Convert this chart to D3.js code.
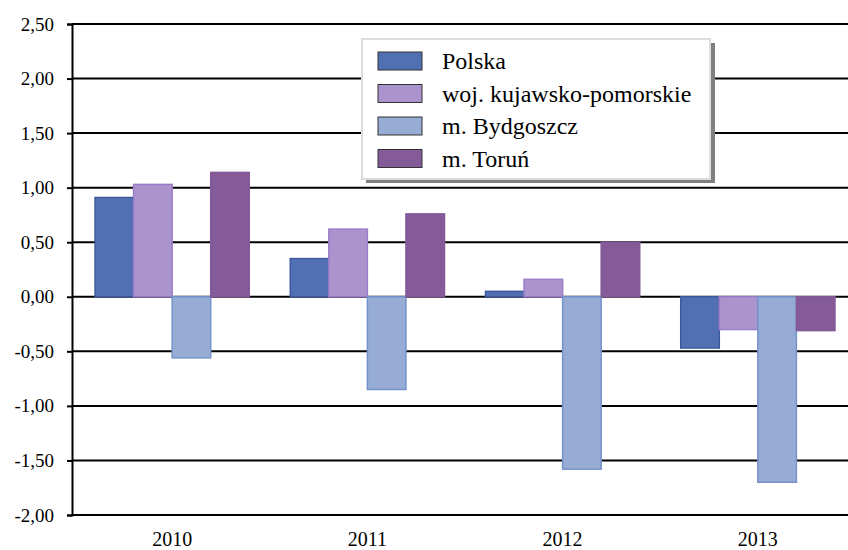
<!DOCTYPE html>
<html>
<head>
<meta charset="utf-8">
<script src="https://cdn.jsdelivr.net/npm/d3@7"></script>
<style>
  body { margin: 0; background: #fff; }
  svg text { font-family: "Liberation Serif", "Times New Roman", Times, "DejaVu Serif", serif; fill: #000; }
</style>
</head>
<body>
<div id="chart-container"></div>
<script>
// data
const years = ['2010', '2011', '2012', '2013']
const seriesNames = ['Polska', 'woj. kujawsko-pomorskie', 'm. Bydgoszcz', 'm. Toruń']
const polska = [0.91, 0.35, 0.05, -0.47]
const kujawskoPomorskie = [1.03, 0.62, 0.16, -0.30]
const bydgoszcz = [-0.56, -0.85, -1.58, -1.70]
const torun = [1.14, 0.76, 0.50, -0.31]
const yTicks = [-2, -1.5, -1, -0.5, 0, 0.5, 1, 1.5, 2, 2.5]

const seriesValues = [polska, kujawskoPomorskie, bydgoszcz, torun]
const fills = ['#5170b3', '#ab94cd', '#97acd4', '#845a99']
const strokes = ['#3f5a9c', '#9a7cc9', '#7393c9', '#845a99']

// constants
const width = 848
const height = 550
const margin = {left: 72, top: 24, right: 0, bottom: 35}
const plotBottom = height - margin.bottom
const serif = '"Liberation Serif", "Times New Roman", Times, "DejaVu Serif", serif'

const plLocale = d3.formatLocale({decimal: ',', thousands: ' ', grouping: [3], currency: ['', ' zł'], minus: '-'})
const fmt = plLocale.format('.2f')

const svg = d3.select('#chart-container')
  .append('svg')
  .attr('width', width)
  .attr('height', height)

// scales
const yScale = d3.scaleLinear()
  .domain([-2, 2.5])
  .range([plotBottom, margin.top])

const x0 = d3.scaleBand()
  .domain(years)
  .range([margin.left, 858])
  .paddingInner(0.21)
  .paddingOuter(0.118)

const x1 = d3.scaleBand()
  .domain(seriesNames)
  .range([0, x0.bandwidth()])

// gridlines
svg.append('g')
  .selectAll('line')
  .data(yTicks)
  .join('line')
  .attr('x1', margin.left)
  .attr('x2', width)
  .attr('y1', d => yScale(d))
  .attr('y2', d => yScale(d))
  .attr('stroke', '#000')
  .attr('stroke-width', 2)

// y axis
const yAxis = d3.axisLeft(yScale)
  .tickValues(yTicks)
  .tickFormat(fmt)
  .tickSize(5)
  .tickPadding(13)
const yG = svg.append('g')
  .attr('transform', `translate(${margin.left}, 0)`)
  .call(yAxis)
  .attr('font-family', serif)
yG.select('.domain').attr('stroke', '#000').attr('stroke-width', 2)
yG.selectAll('.tick line').attr('stroke', '#000').attr('stroke-width', 2)
yG.selectAll('.tick text')
  .attr('font-family', serif)
  .attr('font-size', 19)
  .attr('fill', '#000')

// bars
const rows = years.map((y, i) => ({year: y, vals: seriesNames.map((s, j) => ({name: s, j, v: seriesValues[j][i]}))}))
svg.append('g')
  .selectAll('g')
  .data(rows)
  .join('g')
  .attr('transform', d => `translate(${x0(d.year)}, 0)`)
  .selectAll('rect')
  .data(d => d.vals)
  .join('rect')
  .attr('x', d => x1(d.name))
  .attr('y', d => yScale(Math.max(0, d.v)))
  .attr('width', x1.bandwidth())
  .attr('height', d => Math.abs(yScale(d.v) - yScale(0)))
  .attr('fill', d => fills[d.j])
  .attr('stroke', d => strokes[d.j])
  .attr('stroke-width', 1.5)

// x labels
svg.append('g')
  .selectAll('text')
  .data(years)
  .join('text')
  .attr('x', d => x0(d) + x0.bandwidth() / 2)
  .attr('y', 546)
  .attr('text-anchor', 'middle')
  .attr('font-family', serif)
  .attr('font-size', 20)
  .text(d => d)

// legend
const legend = svg.append('g')
legend.append('rect')
  .attr('x', 366).attr('y', 43).attr('width', 349).attr('height', 140)
  .attr('fill', '#808080')
legend.append('rect')
  .attr('x', 362).attr('y', 39).attr('width', 348).attr('height', 140)
  .attr('fill', '#fff')
  .attr('stroke', '#dcdcdc')
  .attr('stroke-width', 2)
const item = legend.selectAll('g.item')
  .data(seriesNames)
  .join('g')
  .attr('class', 'item')
  .attr('transform', (d, i) => `translate(0, ${61 + i * 32.5})`)
item.append('rect')
  .attr('x', 378).attr('y', -9).attr('width', 44).attr('height', 18)
  .attr('fill', (d, i) => fills[i])
  .attr('stroke', '#333')
  .attr('stroke-width', 1)
item.append('text')
  .attr('x', 442)
  .attr('y', 8)
  .attr('font-family', serif)
  .attr('font-size', 24)
  .text(d => d)
</script>
</body>
</html>
